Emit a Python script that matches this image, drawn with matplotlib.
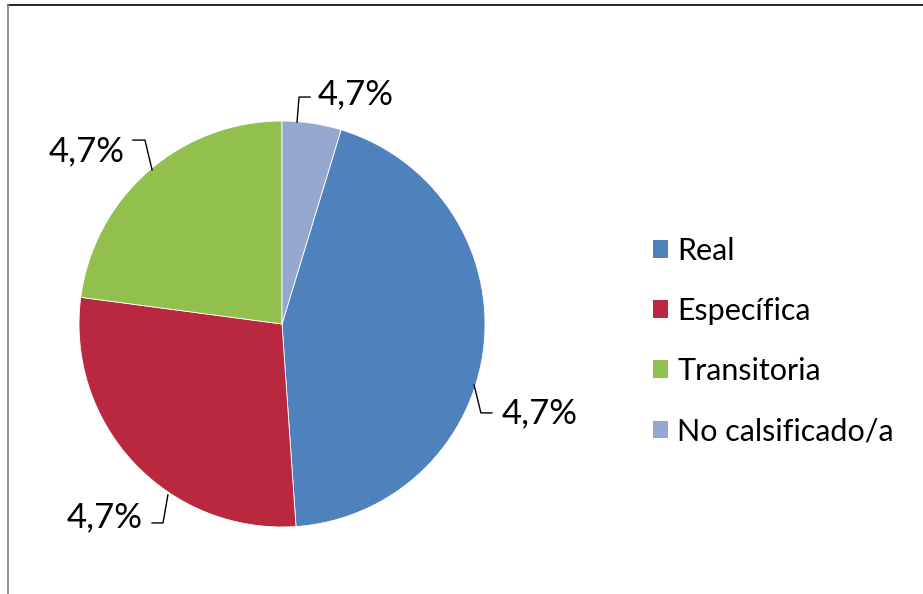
import matplotlib
matplotlib.use("Agg")
import matplotlib.pyplot as plt
from matplotlib.lines import Line2D
from matplotlib.patches import Patch

plt.rcParams['font.family'] = ['Lato', 'DejaVu Sans']

# data
categories = ["Real", "Específica", "Transitoria", "No calsificado/a"]
values = [44.2, 28.2, 22.9, 4.7]
colors = ["#4F81BD", "#B9283F", "#92C04E", "#95A9D0"]
# every data label in the source reads the same
labels = ["4,7%", "4,7%", "4,7%", "4,7%"]

# leader lines (anchor, elbow, end) and text spot, in pie radius units
leaders = [
    [(0.946, -0.300), (0.980, -0.438), (1.034, -0.438)],
    [(-0.562, -0.842), (-0.586, -0.980), (-0.640, -0.980)],
    [(-0.640, 0.759), (-0.675, 0.906), (-0.734, 0.906)],
    [(0.074, 0.995), (0.084, 1.118), (0.138, 1.118)],
]
label_pos = [(1.084, -0.44, "left"), (-0.685, -0.95, "right"),
             (-0.773, 0.85, "right"), (0.177, 1.13, "left")]

W, H = 923, 594
fig = plt.figure(figsize=(W / 100, H / 100), dpi=100)

# outer chart frame (top and left edges only are visible)
fig.add_artist(Line2D([8 / W, 1], [1 - 5 / H, 1 - 5 / H], color="black", lw=1.2))
fig.add_artist(Line2D([8 / W, 8 / W], [0, 1 - 5 / H], color="#7f7f7f", lw=1.2))

cx, cy, r = 282, 324, 203
ax = fig.add_axes([(cx - r) / W, (H - cy - r) / H, 2 * r / W, 2 * r / H])
# the last slice sits at twelve o'clock, the rest follow clockwise
start = 90 - 360 * values[-1] / sum(values)
ax.pie(values, colors=colors, startangle=start, counterclock=False, radius=1,
       wedgeprops=dict(edgecolor="white", linewidth=0.6))
ax.set_xlim(-1, 1)
ax.set_ylim(-1, 1)
ax.set_aspect("equal")
ax.axis("off")

for pts, lab, (tx, ty, ha) in zip(leaders, labels, label_pos):
    xs, ys = zip(*pts)
    ax.plot(xs, ys, color="black", lw=1.0, clip_on=False)
    ax.text(tx, ty, lab, ha=ha, va="center", fontsize=25, clip_on=False)

handles = [Patch(facecolor=c, edgecolor="none") for c in colors]
fig.legend(handles, categories, loc="center left",
           bbox_to_anchor=(653 / W, 1 - 341 / H), frameon=False,
           fontsize=22, handlelength=0.5, handleheight=0.5,
           handletextpad=0.3, labelspacing=1.05, borderpad=0,
           borderaxespad=0)

fig.savefig("out.png", dpi=100)
